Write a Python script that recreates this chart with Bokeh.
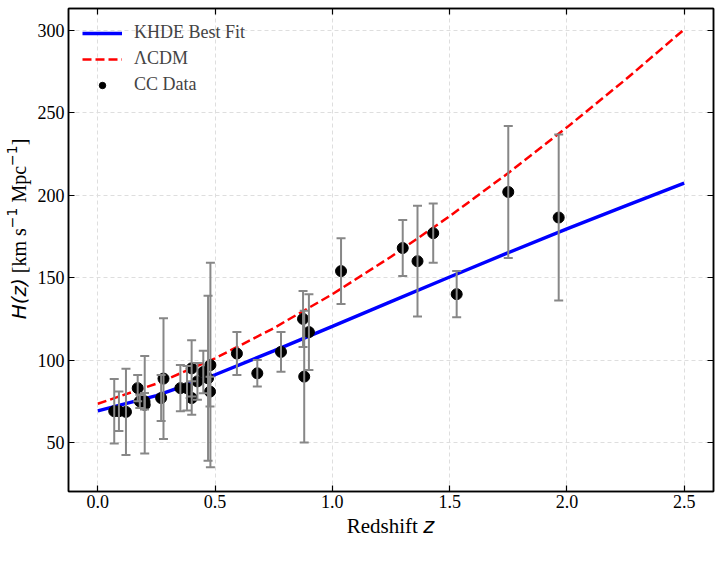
import math

from bokeh.plotting import figure
from bokeh.layouts import row, column
from bokeh.models import (ColumnDataSource, Range1d, LinearAxis, FixedTicker,
                          Whisker, TeeHead, Legend, LegendItem, Label)
from bokeh.embed import file_html
from bokeh.resources import INLINE

# Cosmic-chronometer H(z) measurements
z_cc = [0.07, 0.09, 0.12, 0.17, 0.179, 0.199, 0.20, 0.27, 0.28, 0.352, 0.3802,
        0.40, 0.4004, 0.4247, 0.4497, 0.47, 0.4783, 0.48, 0.593, 0.68, 0.781,
        0.875, 0.88, 0.90, 1.037, 1.30, 1.363, 1.43, 1.53, 1.75, 1.965]
H_cc = [69, 69, 68.6, 83, 75, 75, 72.9, 77, 88.8, 83, 83,
        95, 77, 87.1, 92.8, 89, 80.9, 97, 104, 92, 105,
        125, 90, 117, 154, 168, 160, 177, 140, 202, 186.5]
sigma_cc = [19.6, 12, 26.2, 8, 4, 5, 29.6, 14, 36.6, 14, 13.5,
            17, 10.2, 11.2, 12.9, 50, 9, 62, 13, 8, 12,
            17, 40, 23, 20, 17, 33.6, 18, 14, 40, 50.4]

# Model curves sampled along redshift
z_model = [0.0, 0.25, 0.5, 0.75, 1.0, 1.25, 1.5, 1.75, 2.0, 2.25, 2.5]
H_khde = [69.2, 78.4, 91.1, 105.6, 120.5, 135.5, 150.4, 165.2, 179.6, 193.6, 207.4]
H_lcdm = [73.5, 85.7, 101.1, 119.4, 140.0, 162.7, 187.3, 213.5, 241.2, 270.2, 300.6]

x_ticks = [0.0, 0.5, 1.0, 1.5, 2.0, 2.5]
x_tick_labels = ["0.0", "0.5", "1.0", "1.5", "2.0", "2.5"]
y_ticks = [50, 100, 150, 200, 250, 300]
y_tick_labels = ["50", "100", "150", "200", "250", "300"]

SERIF = "Liberation Serif"
SANS = "DejaVu Sans"
TICK_SIZE = "18px"
LABEL_SIZE = 21
YLABEL_SIZE = 20
SUP_SIZE = 14

# page geometry: a strip on the left for the y title, a strip at the
# bottom for the x title, and the plot itself in between
W, H = 722, 566
LEFT_W = 34          # width of the y-title strip
TOP_H = 514          # height of the row holding the plot
FL, FT, FR, FB = 67, 8, 713, 491   # frame edges on the page

p = figure(width=W - LEFT_W, height=TOP_H, output_backend="svg",
           toolbar_location=None,
           x_range=Range1d(-0.125, 2.625), y_range=Range1d(20.3, 313.3),
           min_border_left=FL - LEFT_W, min_border_top=FT,
           min_border_right=W - FR, min_border_bottom=TOP_H - FB)
p.background_fill_color = "white"
p.border_fill_color = "white"
p.outline_line_color = "black"
p.outline_line_width = 1.5

xt = FixedTicker(ticks=x_ticks)
yt = FixedTicker(ticks=y_ticks)


def style_axis(ax, ticker, overrides=None, standoff=4):
    ax.ticker = ticker
    ax.axis_line_color = "black"
    ax.axis_line_width = 1.5
    ax.major_tick_in = 6
    ax.major_tick_out = 0
    ax.major_tick_line_color = "black"
    ax.major_tick_line_width = 1.2
    ax.minor_tick_line_color = None
    if overrides is None:
        # tick marks only on the mirrored axes
        ax.major_label_text_color = None
        ax.major_label_text_font_size = "1px"
        ax.major_label_standoff = 0
    else:
        ax.major_label_overrides = overrides
        ax.major_label_text_font = SERIF
        ax.major_label_text_font_size = TICK_SIZE
        ax.major_label_text_color = "black"
        ax.major_label_standoff = standoff


style_axis(p.xaxis[0], xt, {t: s for t, s in zip(x_ticks, x_tick_labels)}, 3)
style_axis(p.yaxis[0], yt, {t: s for t, s in zip(y_ticks, y_tick_labels)}, 4)
top_axis = LinearAxis()
style_axis(top_axis, xt)
right_axis = LinearAxis()
style_axis(right_axis, yt)
p.add_layout(top_axis, "above")
p.add_layout(right_axis, "right")

for g, t in ((p.xgrid[0], xt), (p.ygrid[0], yt)):
    g.ticker = t
    g.grid_line_color = "#dedede"
    g.grid_line_dash = "4 3"
    g.grid_line_width = 1

# error bars with caps
src = ColumnDataSource(dict(
    z=z_cc, H=H_cc,
    lo=[h - s for h, s in zip(H_cc, sigma_cc)],
    hi=[h + s for h, s in zip(H_cc, sigma_cc)],
))
ERR = "#878787"
whisk = Whisker(source=src, base="z", lower="lo", upper="hi",
                line_color=ERR, line_width=2, level="glyph",
                upper_head=TeeHead(size=9, line_color=ERR, line_width=2),
                lower_head=TeeHead(size=9, line_color=ERR, line_width=2))
p.add_layout(whisk)

r_khde = p.line(z_model, H_khde, line_color="#0000ff", line_width=3.4)
r_lcdm = p.line(z_model, H_lcdm, line_color="#ff0000", line_width=2.5,
                line_dash="9 4")
r_cc = p.scatter("z", "H", source=src, marker="circle", size=11,
                 fill_color="black", line_color="black")
# legend-only key for the error bar: a vertical stroke behind the dot
# (its single point is undefined, so nothing is drawn inside the frame)
r_bar_key = p.scatter(x=[float("nan")], y=[float("nan")], marker="dash",
                      angle=math.pi / 2, size=18,
                      line_color=ERR, line_width=2)

legend = Legend(items=[
    LegendItem(label="KHDE Best Fit", renderers=[r_khde]),
    LegendItem(label="ΛCDM", renderers=[r_lcdm]),
    LegendItem(label="CC Data", renderers=[r_bar_key, r_cc]),
], location="top_left")
legend.label_text_font = SERIF
legend.label_text_font_size = "18px"
legend.glyph_width = 40
legend.glyph_height = 16
legend.label_height = 16
legend.label_standoff = 12
legend.spacing = 5
legend.margin = 14
legend.padding = 0
legend.border_line_color = None
legend.background_fill_alpha = 0
p.add_layout(legend)


def strip(width, height):
    f = figure(width=width, height=height, output_backend="svg",
               toolbar_location=None, x_axis_type=None, y_axis_type=None,
               x_range=Range1d(0, width), y_range=Range1d(0, height),
               min_border=0)
    f.outline_line_color = None
    f.grid.visible = False
    f.background_fill_color = "white"
    f.border_fill_color = "white"
    return f


def add_label(fig, text, x, y, font, size, italic=False, angle=0.0):
    fig.add_layout(Label(x=x, y=y, x_units="screen", y_units="screen",
                         text=text, text_font=font,
                         text_font_size=f"{size}px",
                         text_font_style="italic" if italic else "normal",
                         text_color="black", angle=angle,
                         text_align="left", text_baseline="middle"))


# y title: "H(z) [km s^-1 Mpc^-1]", reading upward.
# each piece: text, font, size, italic, shift across, advance along
YS = YLABEL_SIZE
YSP = 0.25 * YS
yl_pieces = [("H(z)", SANS, YS, True, 0, 2.057 * YS + YSP),
             ("[km s", SERIF, YS, False, 0, 2.25 * YS),
             ("\u22121", SANS, SUP_SIZE, False, -7, 1.474 * SUP_SIZE + YSP),
             ("Mpc", SERIF, YS, False, 0, 1.833 * YS),
             ("\u22121", SANS, SUP_SIZE, False, -7, 1.474 * SUP_SIZE),
             ("]", SERIF, YS, False, 0, 0.333 * YS)]
ystrip = strip(LEFT_W, TOP_H)
total = sum(pc[-1] for pc in yl_pieces)
cy = (FT + FB) / 2 + 2 + total / 2      # page y where the title starts
mid_x = 18                              # page x of the title's middle line
for text, font, size, it, dx, w in yl_pieces:
    add_label(ystrip, text, mid_x + dx, TOP_H - cy, font, size, it,
              angle=math.pi / 2)
    cy -= w

# x title: "Redshift z"
XS = LABEL_SIZE
xl_pieces = [("Redshift", SERIF, XS, False, 3.389 * XS + 0.25 * XS),
             ("z", SANS, XS, True, 0.525 * XS)]
xstrip = strip(W, H - TOP_H)
total = sum(w for *_, w in xl_pieces)
cx = (FL + FR) / 2 - total / 2
mid_y = 525                              # page y of the title's middle line
for text, font, size, it, w in xl_pieces:
    add_label(xstrip, text, cx, H - mid_y, font, size, it)
    cx += w

page = column(row(ystrip, p, spacing=0), xstrip, spacing=0)
open("out.html", "w").write(file_html(page, INLINE))
